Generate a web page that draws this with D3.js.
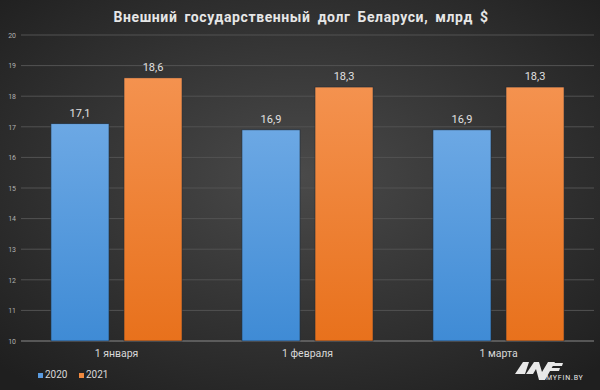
<!DOCTYPE html>
<html>
<head>
<meta charset="utf-8">
<script src="https://cdn.jsdelivr.net/npm/d3@7"></script>
<style>
  body { margin: 0; background: #2a2a2a; }
  svg { display: block; }
</style>
</head>
<body>
<div></div>
<script>
var categories = ["1 января", "1 февраля", "1 марта"]
var seriesNames = ["2020", "2021"]
var values2020 = [17.1, 16.9, 16.9]
var values2021 = [18.6, 18.3, 18.3]
var yTicks = [10, 11, 12, 13, 14, 15, 16, 17, 18, 19, 20]

var W = 600, H = 390
var margin = {left: 21, right: 6, top: 35, bottom: 49}

var svg = d3.select("div").append("svg")
  .attr("width", W).attr("height", H)

var defs = svg.append("defs")
var bg = defs.append("radialGradient").attr("id", "bg")
  .attr("cx", "50%").attr("cy", "45%").attr("r", "70%")
bg.append("stop").attr("offset", "0%").attr("stop-color", "#4a4a4a")
bg.append("stop").attr("offset", "100%").attr("stop-color", "#1f1f1f")

var gBlue = defs.append("linearGradient").attr("id", "gBlue")
  .attr("x1", 0).attr("y1", 0).attr("x2", 0).attr("y2", 1)
gBlue.append("stop").attr("offset", "0%").attr("stop-color", "#6ca8e4")
gBlue.append("stop").attr("offset", "100%").attr("stop-color", "#3f8bd5")
var gOrange = defs.append("linearGradient").attr("id", "gOrange")
  .attr("x1", 0).attr("y1", 0).attr("x2", 0).attr("y2", 1)
gOrange.append("stop").attr("offset", "0%").attr("stop-color", "#f4924f")
gOrange.append("stop").attr("offset", "100%").attr("stop-color", "#e8711c")

svg.append("rect").attr("width", W).attr("height", H).attr("fill", "url(#bg)")

// title
svg.append("text")
  .attr("x", 301).attr("y", 22)
  .attr("text-anchor", "middle")
  .attr("fill", "#e6e6e6")
  .attr("font-family", "Roboto, sans-serif")
  .attr("font-weight", "bold")
  .attr("font-size", 14)
  .attr("letter-spacing", 0.6)
  .attr("word-spacing", 3)
  .text("Внешний государственный долг Беларуси, млрд $")

var x0 = d3.scaleBand().domain(categories)
  .range([margin.left, W - margin.right])
  .paddingInner(0).paddingOuter(0)
var x1 = d3.scaleBand().domain(seriesNames)
  .range([0, x0.bandwidth()])
  .paddingInner(0.205).paddingOuter(0.41)
var y = d3.scaleLinear().domain([10, 20]).range([H - margin.bottom, margin.top])

// grid
svg.append("g").selectAll("line")
  .data(yTicks)
  .enter().append("line")
  .attr("x1", margin.left).attr("x2", W - margin.right)
  .attr("y1", d => y(d)).attr("y2", d => y(d))
  .attr("stroke", d => d == 10 ? "#8a8a8a" : "#525252")
  .attr("stroke-width", 1)

var yAxis = svg.append("g")
  .attr("transform", "translate(" + (margin.left - 5) + ",0)")
  .call(d3.axisLeft(y).tickValues(yTicks).tickSize(0).tickPadding(0))
yAxis.select(".domain").remove()
yAxis.selectAll("text")
  .attr("fill", "#b0b0b0")
  .attr("font-family", "Roboto, sans-serif")
  .attr("font-size", 7)

var rows = categories.map((c, i) => ({cat: c, vals: [
  {s: "2020", v: values2020[i]}, {s: "2021", v: values2021[i]}]}))

var groups = svg.append("g").selectAll("g")
  .data(rows)
  .enter().append("g")
  .attr("transform", d => "translate(" + x0(d.cat) + ",0)")

groups.selectAll("rect")
  .data(d => d.vals)
  .enter().append("rect")
  .attr("x", d => x1(d.s))
  .attr("width", x1.bandwidth())
  .attr("y", d => y(d.v))
  .attr("height", d => y(10) - y(d.v))
  .attr("fill", d => d.s == "2020" ? "url(#gBlue)" : "url(#gOrange)")
  .attr("stroke", "#1e2a36")
  .attr("stroke-width", 0.6)

groups.selectAll("text")
  .data(d => d.vals)
  .enter().append("text")
  .attr("x", d => x1(d.s) + x1.bandwidth() / 2)
  .attr("y", d => y(d.v) - 7)
  .attr("text-anchor", "middle")
  .attr("fill", "#e0e0e0")
  .attr("font-family", "Roboto, sans-serif")
  .attr("font-size", 11)
  .text(d => String(d.v).replace(".", ","))

// category labels
var xAxis = svg.append("g")
  .attr("transform", "translate(0," + (H - margin.bottom) + ")")
  .call(d3.axisBottom(x0).tickSize(0).tickPadding(9))
xAxis.select(".domain").remove()
xAxis.selectAll("text")
  .attr("fill", "#d8d8d8")
  .attr("font-family", "Roboto, sans-serif")
  .attr("font-size", 10.5)

// legend
var legend = svg.append("g").attr("transform", "translate(38,378)")
var legItems = legend.selectAll("g")
  .data(seriesNames)
  .enter().append("g")
  .attr("transform", (d, i) => "translate(" + (i * 41) + ",0)")
legItems.append("rect")
  .attr("x", 0).attr("y", -5).attr("width", 5).attr("height", 5)
  .attr("fill", (d, i) => i == 0 ? "#5a9be0" : "#f08a40")
legItems.append("text")
  .attr("x", 7).attr("y", 0)
  .attr("fill", "#d8d8d8")
  .attr("font-family", "Roboto, sans-serif")
  .attr("font-size", 10)
  .text(d => d)

// logo
var logo = svg.append("g").attr("transform", "translate(515,360)")
logo.append("path")
  .attr("d", "M0,14 L8,2 L14,2 L10,14 Z M11,14 L19,2 L24,2 L27,12 L33,2 L40,2 L30,20 L24,20 L21,9 L18,14 Z M34,3 L48,3 L47,6 L33,6 Z M31,8 L45,8 L44,11 L30,11 Z")
  .attr("fill", "#e8e8e8")
logo.append("text")
  .attr("x", 31).attr("y", 20)
  .attr("fill", "#e8e8e8")
  .attr("font-family", "Roboto, sans-serif")
  .attr("font-size", 7)
  .attr("letter-spacing", 0.8)
  .text("MYFIN.BY")
</script>
</body>
</html>
